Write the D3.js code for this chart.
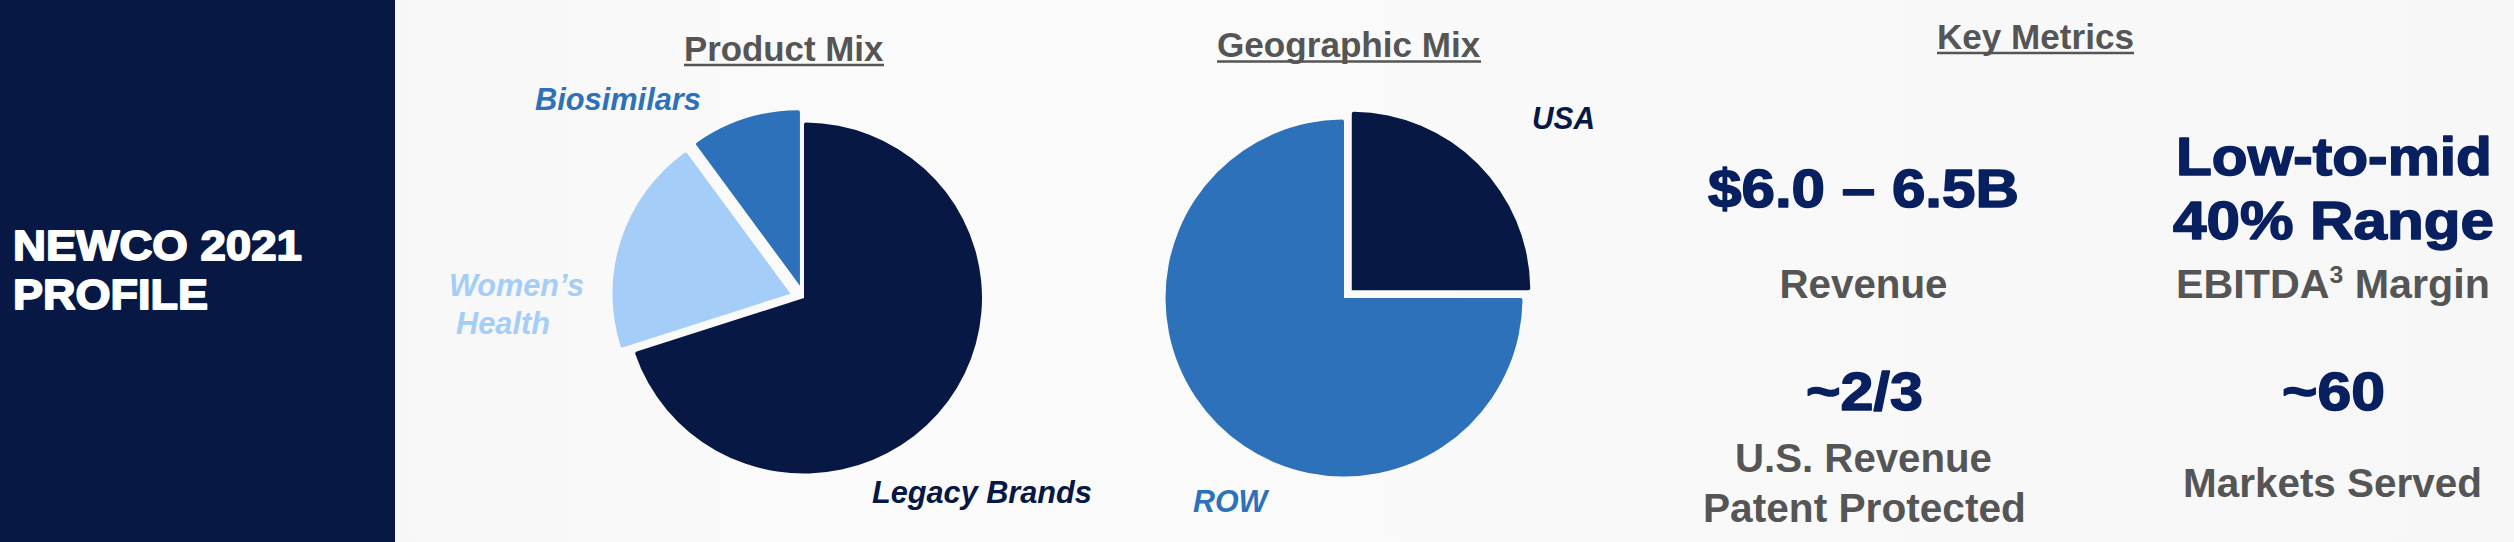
<!DOCTYPE html>
<html>
<head>
<meta charset="utf-8">
<script src="https://cdn.jsdelivr.net/npm/d3@7"></script>
<style>
  html, body { margin: 0; padding: 0; background: #f9f9f9; }
  svg { display: block; }
  text { font-family: "Liberation Sans", Arial, Helvetica, sans-serif; font-weight: bold; }
</style>
</head>
<body>
<svg id="chart" width="2514" height="542"></svg>
<script>
// ---------- data ----------
const pageTitle = ["NEWCO 2021", "PROFILE"];
const sectionTitles = ["Product Mix", "Geographic Mix", "Key Metrics"];
const productCategories = ["Legacy Brands", "Women\u2019s Health", "Biosimilars"];
const productValues = [70, 20, 10];
const geoCategories = ["USA", "ROW"];
const geoValues = [25, 75];
const metricValues = ["$6.0 \u2013 6.5B", "Low-to-mid|40% Range", "~2/3", "~60"];
const metricLabels = ["Revenue", "EBITDA\u00B3 Margin", "U.S. Revenue|Patent Protected", "Markets Served"];

// ---------- style ----------
const NAVY = "#061843";
const NAVY_TEXT = "#082060";
const GREY = "#555555";
const productColors = d3.scaleOrdinal().domain(productCategories).range([NAVY, "#a4cdf8", "#2e71bb"]);
const geoColors = d3.scaleOrdinal().domain(geoCategories).range([NAVY, "#2e71bb"]);

const svg = d3.select("#chart");

// background
const defs = svg.append("defs");
const grad = defs.append("linearGradient").attr("id", "bg").attr("x1", "0").attr("x2", "1").attr("y1", "0").attr("y2", "0");
grad.append("stop").attr("offset", "0").attr("stop-color", "#f4f4f4");
grad.append("stop").attr("offset", "0.35").attr("stop-color", "#fbfbfb");
grad.append("stop").attr("offset", "1").attr("stop-color", "#f7f7f7");
svg.append("rect").attr("x", 0).attr("y", 0).attr("width", 2514).attr("height", 542).attr("fill", "url(#bg)");

// left panel
svg.append("rect").attr("x", 0).attr("y", 0).attr("width", 395).attr("height", 542).attr("fill", NAVY);

// helper: place text so that it starts at x, sits on baseline, and spans width
function fit(sel, x, baseline, width) {
  const w = sel.node().getBBox().width;
  sel.attr("transform", `translate(${x},${baseline}) scale(${width / w},1)`);
  return sel;
}
function addText(str, opts) {
  const t = svg.append("text").attr("x", 0).attr("y", 0)
    .attr("font-size", opts.size).attr("fill", opts.fill)
    .attr("font-style", opts.italic ? "italic" : "normal")
    .text(str);
  if (opts.heavy) t.attr("stroke", opts.fill).attr("stroke-width", opts.heavy).attr("stroke-linejoin", "round");
  return fit(t, opts.x, opts.y, opts.w);
}

// page title
addText(pageTitle[0], { x: 13, y: 260, w: 289, size: 43, fill: "#ffffff", heavy: 1.8 });
addText(pageTitle[1], { x: 13, y: 309, w: 195, size: 43, fill: "#ffffff", heavy: 1.8 });

// section titles with underline
const titlePos = [
  { x: 684, y: 60.5, w: 200 },
  { x: 1217, y: 57, w: 264 },
  { x: 1937, y: 48.5, w: 197 }
];
sectionTitles.forEach((s, i) => {
  const p = titlePos[i];
  addText(s, { x: p.x, y: p.y, w: p.w, size: 35, fill: GREY });
  svg.append("line").attr("x1", p.x).attr("x2", p.x + p.w)
    .attr("y1", p.y + 4.5).attr("y2", p.y + 4.5)
    .attr("stroke", GREY).attr("stroke-width", 2.5);
});

// ---------- pies ----------
const pie = d3.pie().sort(null).startAngle(0).endAngle(2 * Math.PI);

function drawPie(values, cats, colors, cx, cy, rx, ry, explode) {
  const arc = d3.arc().innerRadius(0).outerRadius(ry).cornerRadius(2);
  const g = svg.append("g").attr("transform", `translate(${cx},${cy}) scale(${rx / ry},1)`);
  const arcs = pie(values);
  g.selectAll("path").data(arcs).join("path")
    .attr("d", arc)
    .attr("fill", (d, i) => colors(cats[i]))
    .attr("transform", (d, i) => {
      const e = explode[i] || 0;
      const a = (d.startAngle + d.endAngle) / 2;
      return `translate(${Math.sin(a) * e},${-Math.cos(a) * e})`;
    });
}

drawPie(productValues, productCategories, productColors, 804, 298, 178, 175.5, [0, 14, 13]);
drawPie(geoValues, geoCategories, geoColors, 1344, 298, 178.5, 178.5, [11, 0]);

// pie labels
addText(productCategories[2], { x: 535, y: 110, w: 166, size: 31, fill: productColors(productCategories[2]), italic: true });
addText("Women\u2019s", { x: 449, y: 295.5, w: 135, size: 31, fill: productColors(productCategories[1]), italic: true });
addText("Health", { x: 456, y: 333.5, w: 94, size: 31, fill: productColors(productCategories[1]), italic: true });
addText(productCategories[0], { x: 872, y: 503, w: 220, size: 31, fill: productColors(productCategories[0]), italic: true });
addText(geoCategories[0], { x: 1532, y: 128.5, w: 63, size: 31, fill: geoColors(geoCategories[0]), italic: true });
addText(geoCategories[1], { x: 1193, y: 511.5, w: 77, size: 31, fill: geoColors(geoCategories[1]), italic: true });

// ---------- key metrics ----------
const valuePos = [
  [{ x: 1708, y: 206.5, w: 311 }],
  [{ x: 2176, y: 175, w: 316 }, { x: 2173, y: 238.5, w: 321 }],
  [{ x: 1806, y: 410, w: 117 }],
  [{ x: 2282, y: 410, w: 103 }]
];
const labelPos = [
  [{ x: 1779.5, y: 298, w: 168 }],
  [{ x: 2176, y: 298, w: 314 }],
  [{ x: 1735, y: 471.5, w: 257 }, { x: 1703, y: 521.5, w: 323 }],
  [{ x: 2183, y: 496.5, w: 299 }]
];
metricValues.forEach((v, i) => {
  v.split("|").forEach((line, j) => {
    const p = valuePos[i][j];
    addText(line, { x: p.x, y: p.y, w: p.w, size: 54, fill: NAVY_TEXT, heavy: 1.5 });
  });
});
metricLabels.forEach((v, i) => {
  v.split("|").forEach((line, j) => {
    const p = labelPos[i][j];
    if (line.includes("\u00B3")) {
      const parts = line.split("\u00B3");
      const t = svg.append("text").attr("x", 0).attr("y", 0).attr("font-size", 40).attr("fill", GREY);
      t.append("tspan").text(parts[0]);
      t.append("tspan").attr("font-size", 24).attr("dy", -15).text("3");
      t.append("tspan").attr("dy", 15).text(parts[1]);
      fit(t, p.x, p.y, p.w);
    } else {
      addText(line, { x: p.x, y: p.y, w: p.w, size: 40, fill: GREY });
    }
  });
});
</script>
</body>
</html>
